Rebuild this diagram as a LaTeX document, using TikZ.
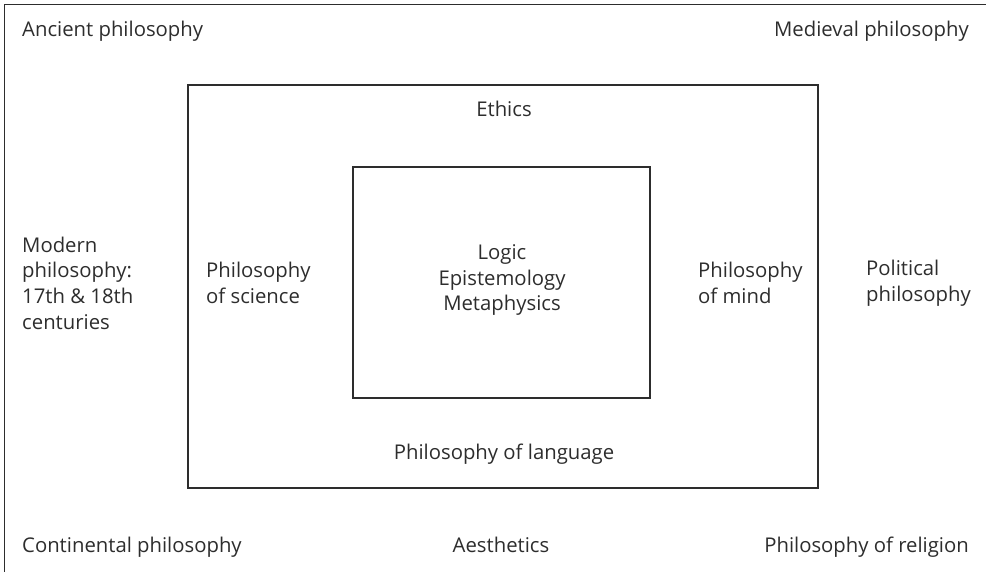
\documentclass[tikz,border=0pt]{standalone}
\usepackage{fontspec}
\setmainfont{Open Sans}
\definecolor{ink}{RGB}{45,45,45}

\begin{document}
\begin{tikzpicture}[x=1pt,y=-1pt,
    label/.style={text=ink,font=\fontsize{20.3}{25.7}\selectfont,inner sep=0pt,align=left},
    frame/.style={draw=ink,line width=1.2pt}]
			\useasboundingbox (0,0) rectangle (986,572);

			% Draw frames
			\draw[frame] (4.5,572) -- (4.5,4.5) -- (986,4.5);
			\draw[frame] (188,85) rectangle (818,488);
			\draw[frame] (353,167) rectangle (650,398);

			% Outer ring
			\node[label,anchor=base west] (ancient) at (22,37) {Ancient philosophy};
			\node[label,anchor=base east] (medieval) at (969,37) {Medieval philosophy};
			\node[label,anchor=west] (modern) at (22,283) {Modern\\philosophy:\\17th \& 18th\\centuries};
			\node[label,anchor=west] (political) at (866,283) {Political\\philosophy};
			\node[label,anchor=base west] (continental) at (22,552) {Continental philosophy};
			\node[label,anchor=base] (aesthetics) at (501,552) {Aesthetics};
			\node[label,anchor=base east] (religion) at (969,552) {Philosophy of religion};

			% Middle ring
			\node[label,anchor=base] (ethics) at (504,117) {Ethics};
			\node[label,anchor=west] (science) at (206,283) {Philosophy\\of science};
			\node[label,anchor=west] (mind) at (698,283) {Philosophy\\of mind};
			\node[label,anchor=base] (language) at (504,459) {Philosophy of language};

			% Core
			\node[label,align=center] (core) at (502,280) {Logic\\Epistemology\\Metaphysics};
		\end{tikzpicture}
\end{document}
